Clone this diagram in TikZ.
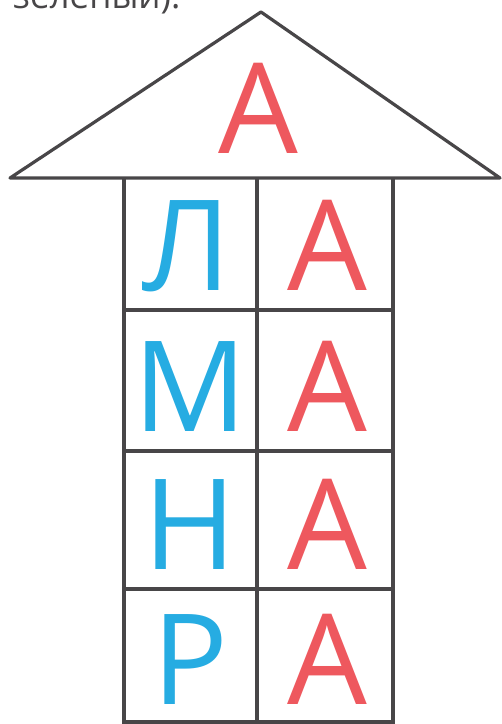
\documentclass[tikz,border=0pt]{standalone}
\usepackage{fontspec}
\setmainfont{Open Sans}
\definecolor{lineg}{RGB}{72,70,72}
\definecolor{letblue}{RGB}{38,172,226}
\definecolor{letred}{RGB}{238,88,94}
\tikzset{
  frame/.style={draw=lineg, line width=3.2pt, line join=round},
  bigletter/.style={anchor=base, inner sep=0pt, font=\fontsize{126}{126}\selectfont},
  blueletter/.style={bigletter, text=letblue},
  redletter/.style={bigletter, text=letred},
}
\begin{document}
\begin{tikzpicture}[x=1pt,y=-1pt]
\useasboundingbox (0,0) rectangle (502,724);
\fill[white] (0,0) rectangle (502,724);
\begin{scope}
\clip (0,0) rectangle (502,724);
\node[anchor=base west, inner sep=0pt, text=lineg, font=\fontsize{35}{35}\selectfont] (caption) at (13,8) {зелёный).};
% roof
\coordinate (apex) at (261,12);
\coordinate (eaveL) at (10,178);
\coordinate (eaveR) at (500,178);
\draw[frame] (eaveL) -- (apex) -- (eaveR) -- cycle;
% grid
\draw[frame] (124,178) -- (124,726);
\draw[frame] (393,178) -- (393,726);
\draw[frame] (257,178) -- (257,726);
\draw[frame] (124,310) -- (393,310);
\draw[frame] (124,451) -- (393,451);
\draw[frame] (124,589) -- (393,589);
\draw[frame] (124,722) -- (393,722);
% letters
\node[redletter] (roofA) at (258,153) {А};
\node[blueletter] (l1) at (187,290) {Л};
\node[redletter] (r1) at (327,290) {А};
\node[blueletter] (l2) at (190,431) {М};
\node[redletter] (r2) at (327,431) {А};
\node[blueletter] (l3) at (190,569) {Н};
\node[redletter] (r3) at (327,569) {А};
\node[blueletter] (l4) at (190,704) {Р};
\node[redletter] (r4) at (327,704) {А};
\end{scope}
\end{tikzpicture}
\end{document}
